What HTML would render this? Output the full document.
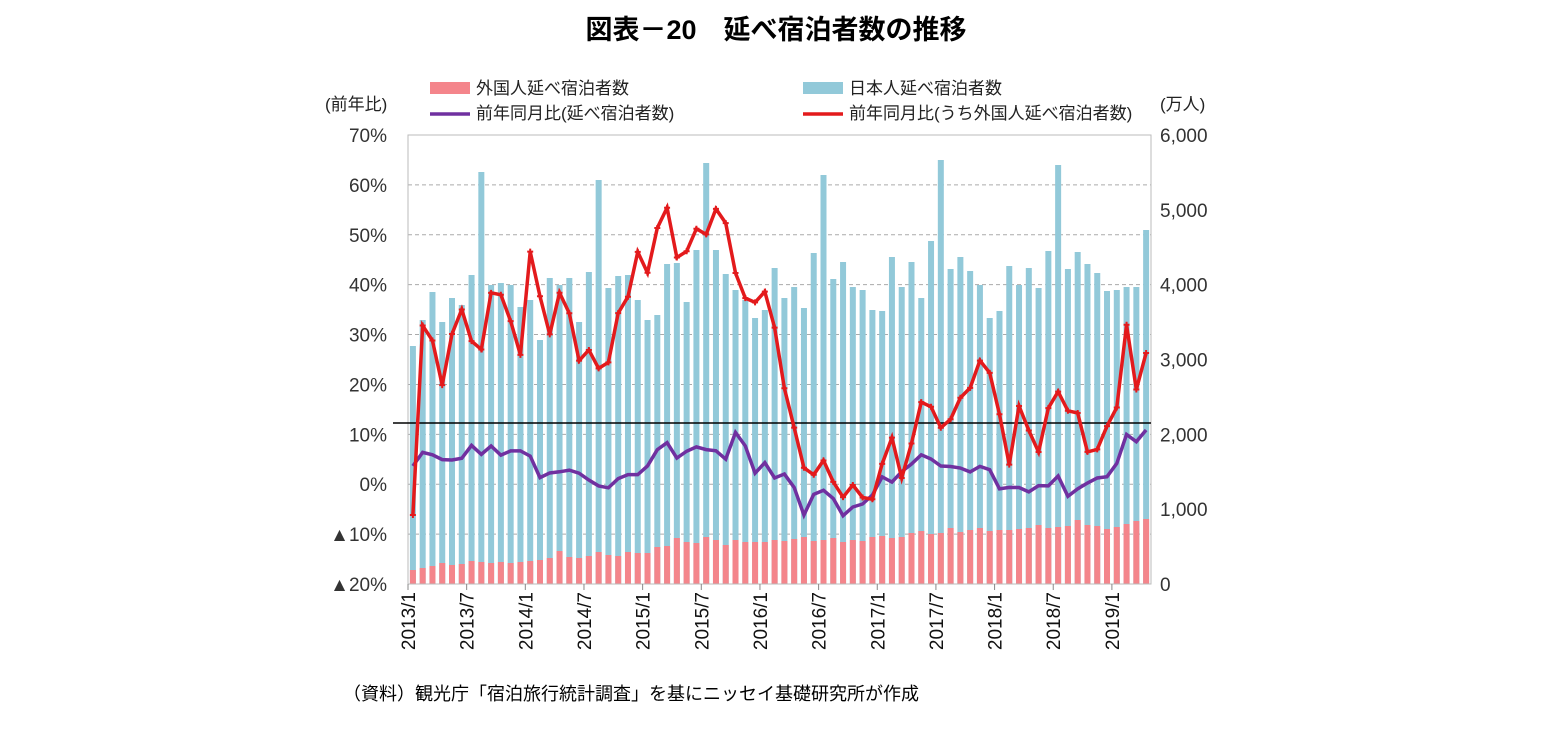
<!DOCTYPE html>
<html><head><meta charset="utf-8"><style>
body{margin:0;background:#fff;}
svg{display:block;font-family:"Liberation Sans","Noto Sans CJK JP",sans-serif;}
</style></head><body>
<svg id="s" width="1561" height="743" xmlns="http://www.w3.org/2000/svg">
<text x="776" y="39" text-anchor="middle" font-size="27" font-weight="bold" fill="#000">図表－20　延べ宿泊者数の推移</text>
<rect x="430" y="82" width="40" height="12" fill="#f4858b"/>
<text x="476" y="94" font-size="17" fill="#222">外国人延べ宿泊者数</text>
<rect x="803" y="82" width="40" height="12" fill="#92c9d9"/>
<text x="849" y="94" font-size="17" fill="#222">日本人延べ宿泊者数</text>
<line x1="430" y1="114" x2="470" y2="114" stroke="#7030a0" stroke-width="3.5"/>
<text x="476" y="119" font-size="17" fill="#222">前年同月比(延べ宿泊者数)</text>
<line x1="803" y1="114" x2="843" y2="114" stroke="#e31a1c" stroke-width="3.5"/>
<text x="849" y="119" font-size="17" fill="#222">前年同月比(うち外国人延べ宿泊者数)</text>
<text x="325" y="110" font-size="17" fill="#222">(前年比)</text>
<text x="1160" y="110" font-size="17" fill="#222">(万人)</text>
<text x="343" y="700" font-size="18" fill="#000">（資料）観光庁「宿泊旅行統計調査」を基にニッセイ基礎研究所が作成</text>
<g id="g"></g>
</svg>
<script>
var L=408,R=1151,T=135,B=584,N=76,w=(R-L)/N;
function rs(a){var o=[];for(var i=0;i<N;i++){var t=i*(a.length-1)/(N-1),k=Math.floor(t),f=t-k;o.push(k+1<a.length?a[k]*(1-f)+a[k+1]*f:a[k]);}return o;}
var tot=[346,320,292,322,298,305,275,172,285,283,285,307,300,340,278,285,278,322,272,180,288,276,275,300,320,315,264,263,302,250,163,250,274,290,300,318,310,268,298,287,308,253,175,279,262,287,290,310,311,257,287,262,298,241,160,269,257,271,285,318,311,266,285,268,288,251,165,269,252,264,273,291,290,287,287,230];
var fr=[570,568,566,563,565,564,561,562,563,562,563,562,561,560,558,551,557,558,556,552,555,556,552,553,553,547,546,538,542,543,537,540,545,540,542,542,542,540,541,539,537,541,540,538,542,540,541,537,536,538,537,533,531,534,533,528,532,530,528,531,530,530,529,528,525,528,527,526,520,525,526,529,527,524,521,519];
var red=[515,323,341,387,331,308,344,350,286,296,325,360,231,310,340,281,322,372,343,377,357,296,297,232,292,196,214,282,233,226,240,187,250,291,304,301,283,371,406,451,487,460,461,510,479,494,503,493,412,486,462,404,398,428,427,398,397,359,366,398,479,402,425,459,411,389,411,409,452,451,427,411,323,390,353];
var pur=[466,452,455,460,460,458,443,457,443,459,448,452,458,488,464,477,465,480,480,492,483,473,477,471,457,435,460,453,446,450,448,464,431,443,474,462,478,474,488,517,492,490,500,519,504,504,492,471,487,464,464,449,466,466,467,469,475,456,488,490,483,496,483,492,469,498,490,484,478,478,466,434,442,430];
red=rs(red);pur=rs(pur);
var s='';
for(var k=0;k<=9;k++){var y=T+(B-T)*k/9;s+='<line x1="'+L+'" x2="'+R+'" y1="'+y+'" y2="'+y+'" stroke="#aaa" stroke-dasharray="4,3"/>';}
for(var i=0;i<N;i++){var x=L+w*i+1.9,bw=6;s+='<rect x="'+x+'" y="'+tot[i]+'" width="'+bw+'" height="'+(B-tot[i])+'" fill="#92c9d9"/>';s+='<rect x="'+x+'" y="'+fr[i]+'" width="'+bw+'" height="'+(B-fr[i])+'" fill="#f4858b"/>';}
s+='<rect x="'+L+'" y="'+T+'" width="'+(R-L)+'" height="'+(B-T)+'" fill="none" stroke="#bbb"/>';
s+='<line x1="393" x2="'+R+'" y1="423" y2="423" stroke="#000" stroke-width="1.5"/>';
var pp='',pr='';for(var i=0;i<N;i++){var x=L+w*(i+0.5);pp+=x+','+pur[i]+' ';pr+=x+','+red[i]+' ';}
s+='<polyline points="'+pp+'" fill="none" stroke="#7030a0" stroke-width="3.5"/>';
s+='<polyline points="'+pr+'" fill="none" stroke="#e31a1c" stroke-width="3.5"/>';
for(var i=0;i<N;i++){var x=L+w*(i+0.5);s+='<path d="M'+(x-3)+' '+red[i]+'h6M'+x+' '+(red[i]-3)+'v6" stroke="#e31a1c" stroke-width="2"/>';}
var la=['70%','60%','50%','40%','30%','20%','10%','0%','▲10%','▲20%'];
for(var k=0;k<10;k++){var y=T+(B-T)*k/9+7;s+='<text x="387" y="'+y+'" text-anchor="end" font-size="19" fill="#333">'+la[k]+'</text>';}
var ra=['6,000','5,000','4,000','3,000','2,000','1,000','0'];
for(var k=0;k<7;k++){var y=T+(B-T)*k/6+7;s+='<text x="1160" y="'+y+'" font-size="19" fill="#333">'+ra[k]+'</text>';}
var xl=['2013/1','2013/7','2014/1','2014/7','2015/1','2015/7','2016/1','2016/7','2017/1','2017/7','2018/1','2018/7','2019/1'];
for(var k=0;k<xl.length;k++){var x=L+w*6*k;s+='<line x1="'+x+'" x2="'+x+'" y1="'+B+'" y2="'+(B+6)+'" stroke="#888"/>';s+='<text transform="translate('+(x+7)+',592) rotate(-90)" text-anchor="end" font-size="19" fill="#111">'+xl[k]+'</text>';}
document.getElementById('g').innerHTML=s;
</script>
</body></html>
